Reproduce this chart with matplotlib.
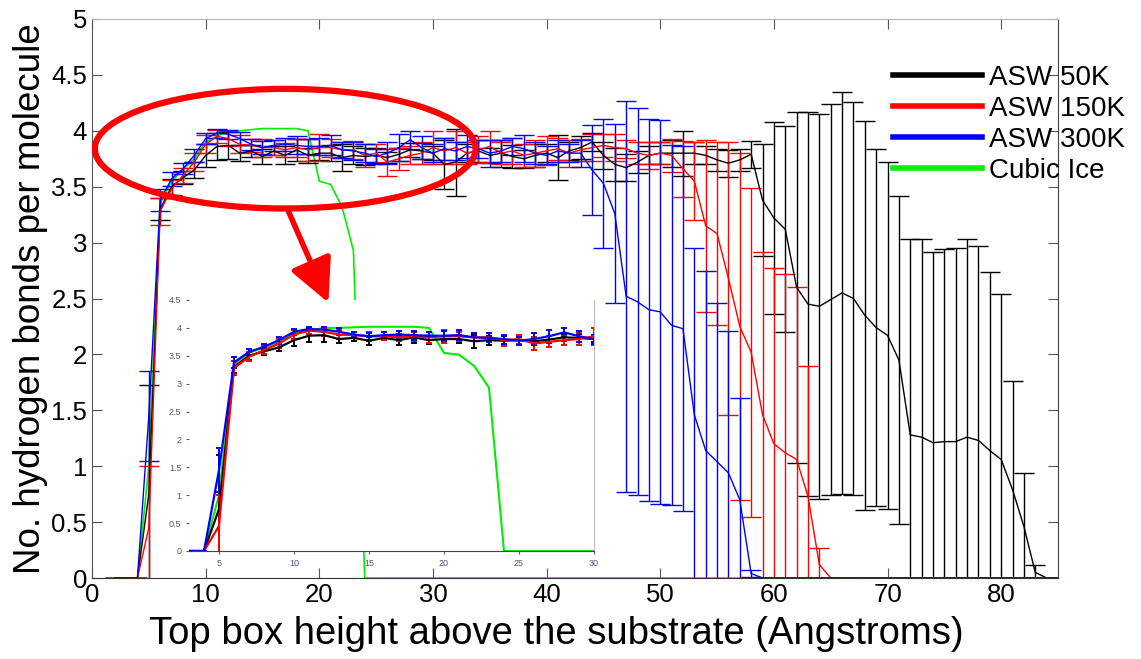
#!/usr/bin/env python3
import matplotlib
matplotlib.use("Agg")
import matplotlib.pyplot as plt
from matplotlib.patches import Ellipse
from matplotlib.lines import Line2D

plt.rcParams['font.family'] = ['Liberation Sans', 'DejaVu Sans']

# box height (Angstroms), 2..85
height = list(range(2, 86))

asw50 = [0, 0, 0, 0.75, 3.30, 3.50, 3.58, 3.65, 3.78, 3.86, 3.87, 3.80, 3.82, 3.77,
         3.82, 3.78, 3.83, 3.78, 3.80, 3.80, 3.76, 3.78, 3.77, 3.78, 3.76, 3.79, 3.83,
         3.82, 3.80, 3.70, 3.72, 3.80, 3.82, 3.78, 3.80, 3.77, 3.75, 3.78, 3.80, 3.76,
         3.82, 3.85, 3.90, 3.78, 3.70, 3.67, 3.72, 3.78, 3.80, 3.80, 3.80, 3.80, 3.78,
         3.74, 3.71, 3.74, 3.79, 3.38, 3.22, 3.12, 2.60, 2.45, 2.43, 2.49, 2.55, 2.50,
         2.35, 2.24, 2.17, 1.95, 1.28, 1.26, 1.21, 1.22, 1.22, 1.26, 1.23, 1.14, 1.06,
         0.79, 0.46, 0.05, 0, 0]
asw50_err = [0, 0, 0, 0.98, 0.10, 0.07, 0.06, 0.07, 0.10, 0.12, 0.12, 0.07, 0.05, 0.07,
             0.04, 0.08, 0.10, 0.07, 0.06, 0.07, 0.12, 0.08, 0.08, 0.07, 0.05, 0.06, 0.06,
             0.07, 0.06, 0.22, 0.30, 0.08, 0.10, 0.07, 0.12, 0.10, 0.08, 0.10, 0.08, 0.20,
             0.08, 0.10, 0.08, 0.12, 0.15, 0.12, 0.10, 0.08, 0.10, 0.12, 0.20, 0.10, 0.08,
             0.10, 0.12, 0.10, 0.12, 0.50, 0.86, 0.92, 1.57, 1.72, 1.72, 1.75, 1.80, 1.76,
             1.74, 1.60, 1.55, 1.47, 1.75, 1.77, 1.71, 1.72, 1.73, 1.77, 1.74, 1.60, 1.48,
             0.97, 0.48, 0.07, 0, 0]

asw150 = [0, 0, 0, 0.45, 3.28, 3.48, 3.60, 3.72, 3.88, 3.95, 3.93, 3.88, 3.87, 3.85,
          3.85, 3.83, 3.85, 3.83, 3.85, 3.85, 3.83, 3.83, 3.78, 3.80, 3.72, 3.75, 3.78,
          3.80, 3.85, 3.82, 3.85, 3.80, 3.83, 3.86, 3.80, 3.82, 3.78, 3.80, 3.82, 3.84,
          3.80, 3.83, 3.85, 3.87, 3.85, 3.84, 3.80, 3.78, 3.80, 3.78, 3.66, 3.55, 3.15,
          3.08, 2.68, 2.25, 2.02, 1.46, 1.20, 1.12, 1.06, 0.73, 0.12, 0, 0, 0, 0, 0, 0,
          0, 0, 0, 0, 0, 0, 0, 0, 0, 0, 0, 0, 0, 0, 0]
asw150_err = [0, 0, 0, 0.55, 0.12, 0.08, 0.07, 0.08, 0.08, 0.06, 0.07, 0.08, 0.06, 0.08,
              0.07, 0.06, 0.08, 0.10, 0.12, 0.08, 0.07, 0.08, 0.10, 0.08, 0.12, 0.10, 0.08,
              0.10, 0.15, 0.12, 0.15, 0.10, 0.12, 0.14, 0.10, 0.12, 0.10, 0.12, 0.13, 0.10,
              0.12, 0.10, 0.12, 0.10, 0.12, 0.08, 0.10, 0.12, 0.10, 0.15, 0.25, 0.35, 0.77,
              0.82, 1.22, 1.55, 1.47, 1.46, 1.57, 1.60, 1.54, 1.17, 0.15, 0, 0, 0, 0, 0, 0,
              0, 0, 0, 0, 0, 0, 0, 0, 0, 0, 0, 0, 0, 0, 0]

asw300 = [0, 0, 0, 1.45, 3.38, 3.57, 3.66, 3.78, 3.93, 3.98, 3.97, 3.93, 3.88, 3.85,
          3.87, 3.88, 3.87, 3.86, 3.86, 3.87, 3.83, 3.82, 3.80, 3.77, 3.80, 3.85, 3.92,
          3.85, 3.80, 3.84, 3.82, 3.86, 3.84, 3.80, 3.82, 3.86, 3.84, 3.80, 3.78, 3.82,
          3.80, 3.80, 3.65, 3.53, 3.26, 2.52, 2.47, 2.40, 2.38, 2.26, 2.23, 1.46, 1.14,
          1.04, 0.94, 0.70, 0.04, 0, 0, 0, 0, 0, 0, 0, 0, 0, 0, 0, 0, 0, 0, 0, 0, 0, 0,
          0, 0, 0, 0, 0, 0, 0, 0, 0]
asw300_err = [0, 0, 0, 0.40, 0.10, 0.06, 0.05, 0.06, 0.05, 0.04, 0.04, 0.06, 0.05, 0.06,
              0.05, 0.06, 0.08, 0.07, 0.08, 0.09, 0.07, 0.08, 0.08, 0.07, 0.10, 0.12, 0.08,
              0.10, 0.08, 0.10, 0.08, 0.10, 0.08, 0.12, 0.10, 0.08, 0.12, 0.10, 0.08, 0.10,
              0.08, 0.12, 0.40, 0.58, 0.80, 1.75, 1.73, 1.71, 1.72, 1.61, 1.63, 1.49, 1.61,
              1.42, 1.27, 0.91, 0.03, 0, 0, 0, 0, 0, 0, 0, 0, 0, 0, 0, 0, 0, 0, 0, 0, 0, 0,
              0, 0, 0, 0, 0, 0, 0, 0, 0]

cubic = [0, 0, 0, 1.0, 3.35, 3.55, 3.65, 3.75, 3.90, 3.95, 4.00, 4.00, 4.01, 4.02,
         4.02, 4.02, 4.02, 4.00, 3.55, 3.52, 3.32, 2.93] + [0] * 62

series = [("ASW 50K", asw50, asw50_err, "black"),
          ("ASW 150K", asw150, asw150_err, "red"),
          ("ASW 300K", asw300, asw300_err, "blue")]
green = "#00ee00"

fig = plt.figure(figsize=(11.41, 6.59), dpi=100)
ax = fig.add_axes([92 / 1141, 81 / 659, 966 / 1141, 559 / 659])

ax.plot(height, cubic, color=green, lw=1.2, zorder=1)
for name, y, e, c in series:
    ax.errorbar(height, y, yerr=e, color=c, lw=1.0, elinewidth=1.0,
                capsize=7, capthick=1.0, zorder=2)

ax.set_xlim(0, 85)
ax.set_ylim(0, 5)
ax.set_xticks(range(0, 81, 10))
ax.set_yticks([i * 0.5 for i in range(11)])
ax.set_yticklabels(["0", "0.5", "1", "1.5", "2", "2.5", "3", "3.5", "4", "4.5", "5"])
ax.tick_params(direction="in", top=True, right=True, length=7, labelsize=18.5,
               color="#555555")
for side, col in [("left", "#555555"), ("bottom", "#333333"), ("top", "#b5b5b5"),
                  ("right", "#444444")]:
    ax.spines[side].set_color(col)
ax.set_xlabel("Top box height above the substrate (Angstroms)", fontsize=27.5,
              va="center")
ax.xaxis.set_label_coords(0.481, -0.101)
ax.set_ylabel("No. hydrogen bonds per molecule", fontsize=26.5, va="center")
ax.yaxis.set_label_coords(-0.064, 0.5)

# highlight + arrow
ax.add_patch(Ellipse((17.0, 3.84), 33.5, 1.07, fill=False, ec="red", lw=4.5, zorder=5))
ax.annotate("", xy=(20.9, 2.44), xytext=(17.2, 3.30),
            arrowprops=dict(arrowstyle="-|>,head_length=1.1,head_width=0.55",
                            color="red", lw=4, mutation_scale=24), zorder=5)

handles = [Line2D([], [], color=c, lw=4) for _, _, _, c in series]
handles.append(Line2D([], [], color=green, lw=4))
leg = ax.legend(handles, [s[0] for s in series] + ["Cubic Ice"],
                loc="upper left", bbox_to_anchor=(893 / 1141, 1 - 65 / 659),
                bbox_transform=fig.transFigure, frameon=False, fontsize=20,
                handlelength=3.2, handletextpad=0.25, labelspacing=0.18,
                borderpad=0, borderaxespad=0)

# inset zoom of the rising part
ins = fig.add_axes([189 / 1141, 108 / 659, 405 / 1141, 251 / 659])
n = height.index(30) + 1
ins.plot(height[1:n], cubic[1:n], color=green, lw=1.5, zorder=1)
for name, y, e, c in series:
    ins.errorbar(height[1:n], y[1:n], yerr=e[1:n], color=c, lw=1.6, elinewidth=1.4,
                 capsize=2.5, capthick=1.4, zorder=2)
ins.set_xlim(3, 30)
ins.set_ylim(0, 4.5)
ins.set_xticks(range(5, 31, 5))
ins.set_yticks([i * 0.5 for i in range(10)])
ins.set_yticklabels(["0", "0.5", "1", "1.5", "2", "2.5", "3", "3.5", "4", "4.5"])
ins.tick_params(labelsize=6.5, colors="#555577", length=2, direction="out")
ins.spines["left"].set_visible(False)
ins.spines["top"].set_visible(False)
ins.spines["right"].set_color("#bbbbbb")
ins.spines["bottom"].set_color("#444444")

fig.savefig("out.png", dpi=100)
